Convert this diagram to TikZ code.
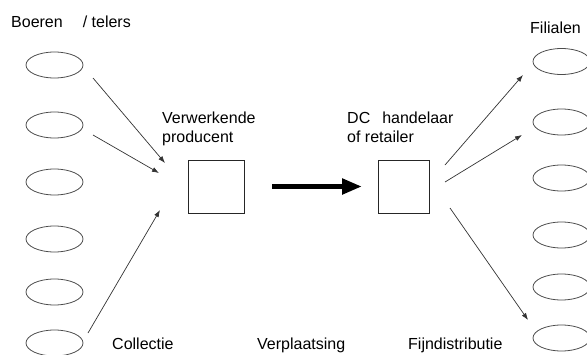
\documentclass[tikz,border=0pt]{standalone}
\usepackage{fontspec}
\setmainfont{Liberation Sans}
\usepackage{tikz}
\usepackage{tkz-graph}
\usetikzlibrary{shapes.geometric,arrows.meta}

\tikzset{lbl/.style={anchor=base west,inner sep=0pt}}

\begin{document}
\begin{tikzpicture}[x=1pt,y=-1pt,font=\fontsize{16}{19}\selectfont]
            \clip (0,0) rectangle (587,354);
            \node[lbl] (boeren) at (11,27){Boeren\hspace{20pt}/ telers};
            \node[lbl] (filialen) at (530,33){Filialen};
            \node[lbl] (verw) at (162,123){Verwerkende};
            \node[lbl] (prod) at (162,142){producent};
            \node[lbl] (dc) at (347,123){DC\hspace{12pt}handelaar};
            \node[lbl] (retail) at (347,142){of retailer};
            \node[lbl] (coll) at (112,349){Collectie};
            \node[lbl] (verpl) at (257,349){Verplaatsing};
            \node[lbl] (fijn) at (408,349){Fijndistributie};
            \GraphInit[vstyle=Classic];

            \SetVertexNormal[MinSize=1pt,FillColor=white]
            \tikzset{VertexStyle/.append style={ellipse,minimum width=57pt,minimum height=26pt,
              draw=black!70,line width=0.8pt}};
            \Vertex[NoLabel,x=54.5,y=65]{b_1};
            \Vertex[NoLabel,x=54.5,y=125]{b_2};
            \Vertex[NoLabel,x=54.5,y=182]{b_3};
            \Vertex[NoLabel,x=54.5,y=239]{b_4};
            \Vertex[NoLabel,x=54.5,y=292]{b_5};
            \Vertex[NoLabel,x=54.5,y=343]{b_6};

            \Vertex[NoLabel,x=561.5,y=61.5]{f_1};
            \Vertex[NoLabel,x=561.5,y=122]{f_2};
            \Vertex[NoLabel,x=561.5,y=178]{f_3};
            \Vertex[NoLabel,x=561.5,y=235]{f_4};
            \Vertex[NoLabel,x=561.5,y=287]{f_5};
            \Vertex[NoLabel,x=561.5,y=338]{f_6};

            \SetVertexNormal[MinSize=1pt,FillColor=white]
            \tikzset{VertexStyle/.append style={rectangle,minimum width=56pt,minimum height=53pt,
              draw=black!85,line width=0.8pt}};
            \Vertex[NoLabel,x=216,y=186.5]{prod_box};
            \tikzset{VertexStyle/.append style={minimum width=51pt}};
            \Vertex[NoLabel,x=403.5,y=186.5]{dc_box};

            % loose ends of the thin arrows
            \coordinate (s_1) at (93,78);   \coordinate (t_1) at (165,163);
            \coordinate (s_2) at (93,135);  \coordinate (t_2) at (159,173);
            \coordinate (s_3) at (88,333);  \coordinate (t_3) at (160,210);
            \coordinate (s_4) at (445,165); \coordinate (t_4) at (523,75);
            \coordinate (s_5) at (445,182); \coordinate (t_5) at (522,135);
            \coordinate (s_6) at (450,208); \coordinate (t_6) at (528,320);

            \tikzset{EdgeStyle/.style={draw=black!80,line width=0.7pt,
              -{Latex[length=7pt,width=5pt]}}};
            \Edge(s_1)(t_1);
            \Edge(s_2)(t_2);
            \Edge(s_3)(t_3);
            \Edge(s_4)(t_4);
            \Edge(s_5)(t_5);
            \Edge(s_6)(t_6);

            \tikzset{EdgeStyle/.style={draw=black,line width=5pt,shorten <=28pt,shorten >=16pt,
              -{Triangle[length=20pt,width=15pt]}}};
            \Edge(prod_box)(dc_box);
\end{tikzpicture}
\end{document}
